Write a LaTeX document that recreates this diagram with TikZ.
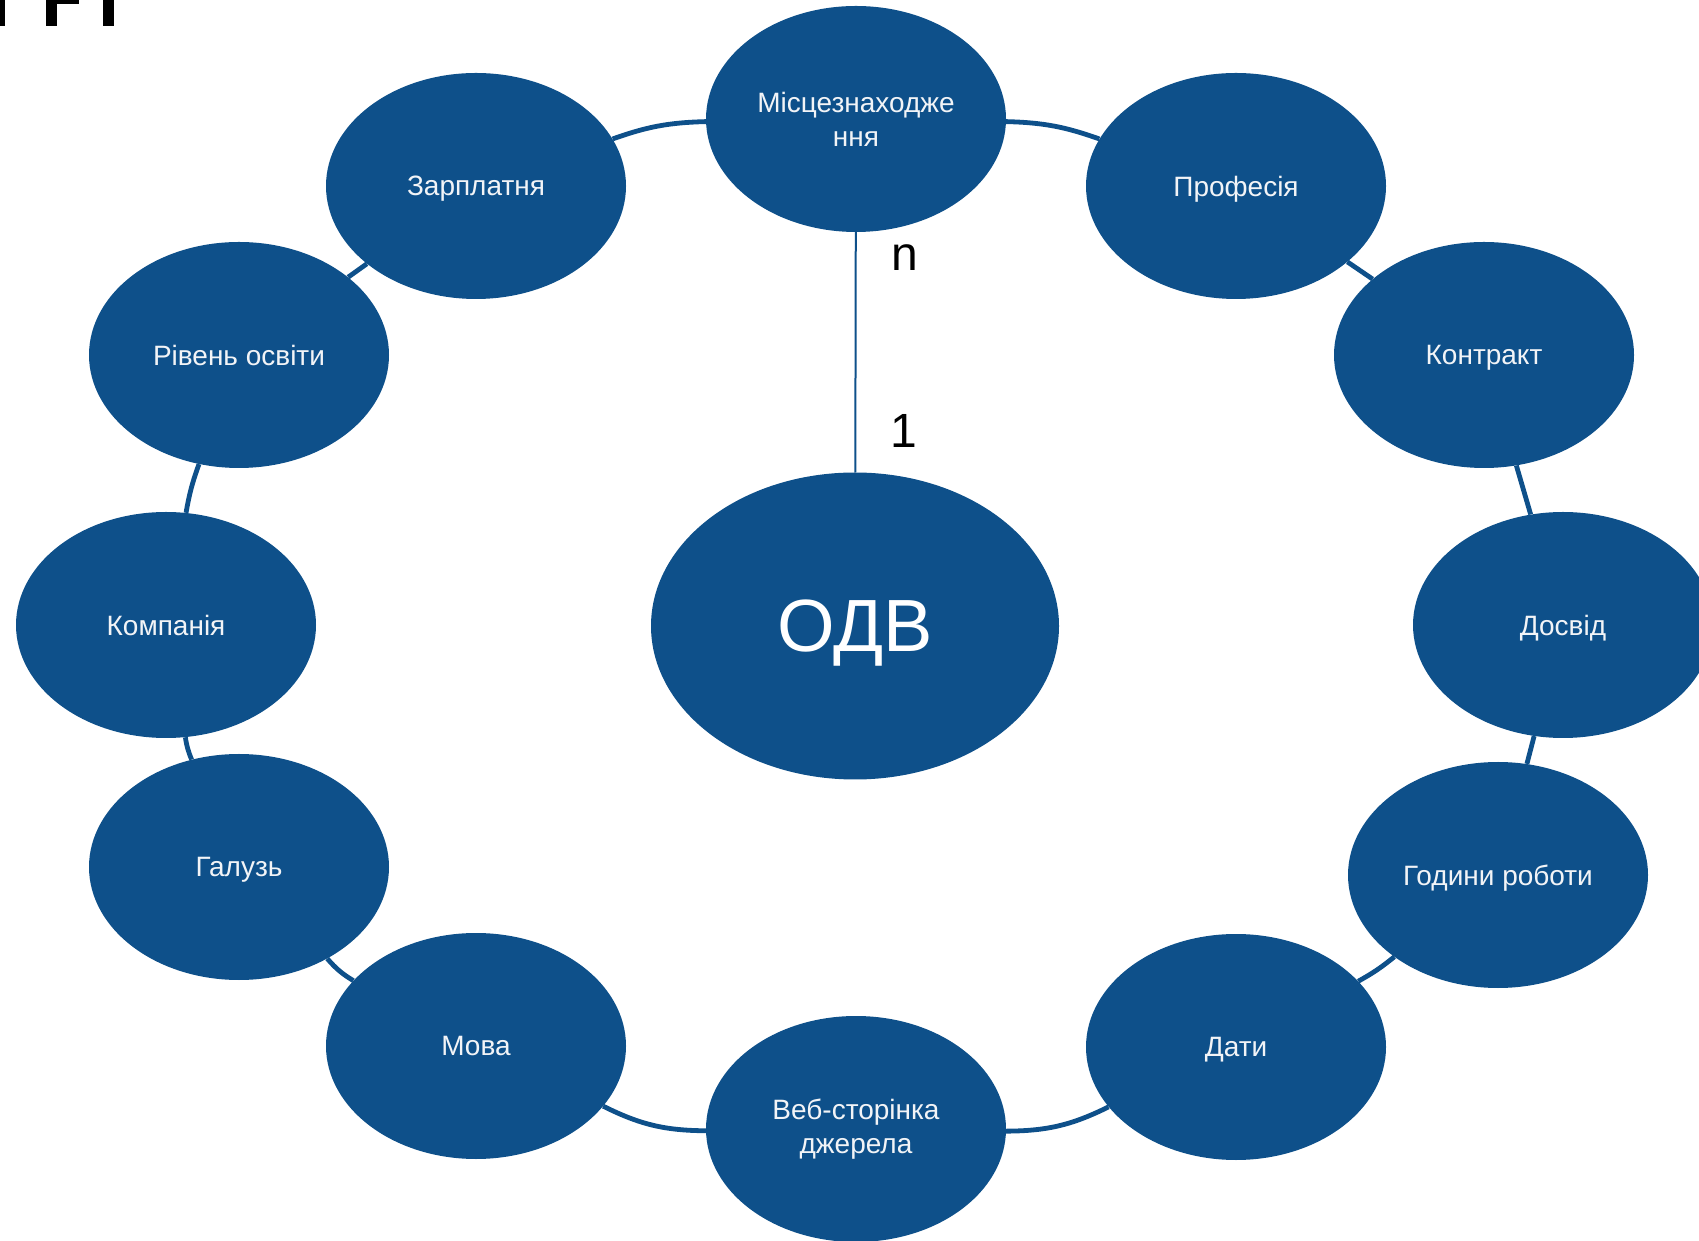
\documentclass[tikz,border=0pt]{standalone}
\usepackage{fontspec}
\setmainfont{Liberation Sans}
\usetikzlibrary{shapes.geometric}
\definecolor{odvblue}{RGB}{14,80,138}
\definecolor{odvtext}{RGB}{242,244,247}
\begin{document}
\begin{tikzpicture}[x=1pt,y=1pt,
  attr/.style={ellipse, fill=odvblue, text=odvtext, minimum width=300pt, minimum height=226pt,
    inner sep=0pt, align=center, font=\fontsize{28}{34}\selectfont},
  oneline/.style={text depth=0pt},
  mainent/.style={ellipse, fill=odvblue, text=white, minimum width=408pt, minimum height=307pt,
    inner sep=0pt, text depth=0pt, font=\fontsize{74}{74}\selectfont},
  link/.style={draw=odvblue, line width=4.8pt},
  rel/.style={draw=odvblue, line width=2pt},
  card/.style={text=black, inner sep=0pt, font=\fontsize{48}{48}\selectfont},
]
\useasboundingbox (0,0) rectangle (1699,1240);
\clip (0,0) rectangle (1699,1240);
% cut-off fragment at the top left
\fill[black] (0,1214) rectangle (5,1240);
\fill[black] (46,1214) rectangle (57,1240);
\fill[black] (46,1236) rectangle (79,1240);
\fill[black] (103,1214) rectangle (114,1240);

\node[attr] (M)  at (856,1121) {Місцезнаходже\\ння};
\node[attr,oneline] (Z)  at (476,1054) {Зарплатня};
\node[attr,oneline] (P)  at (1236,1054) {Професія};
\node[attr,oneline] (R)  at (239,885) {Рівень освіти};
\node[attr,oneline] (K)  at (1484,885) {Контракт};
\node[attr,oneline] (Km) at (166,615) {Компанія};
\node[attr,oneline] (D)  at (1563,615) {Досвід};
\node[attr,oneline] (G)  at (239,373) {Галузь};
\node[attr,oneline] (H)  at (1498,365) {Години роботи};
\node[attr,oneline] (Mv) at (476,194) {Мова};
\node[attr,oneline] (Dt) at (1236,193) {Дати};
\node[attr] (W)  at (856,111) {Веб-сторінка\\джерела};
\node[mainent] (O) at (855,614) {ОДВ};

\node[card] (n1) at (905,982) {n};
\node[card] (one) at (904,809) {1};

\draw[rel] (M) -- (O);

\draw[link] (M) to[bend left=9] (P);
\draw[link] (P) -- (K);
\draw[link] (K) -- (D);
\draw[link] (D) -- (H);
\draw[link] (H) to[bend left=5] (Dt);
\draw[link] (Dt) to[bend left=13] (W);
\draw[link] (W) to[bend left=13] (Mv);
\draw[link] (Mv) to[bend left=9] (G);
\draw[link] (G) to[bend left=7] (Km);
\draw[link] (Km) to[bend left=5] (R);
\draw[link] (R) -- (Z);
\draw[link] (Z) to[bend left=9] (M);
\end{tikzpicture}
\end{document}
